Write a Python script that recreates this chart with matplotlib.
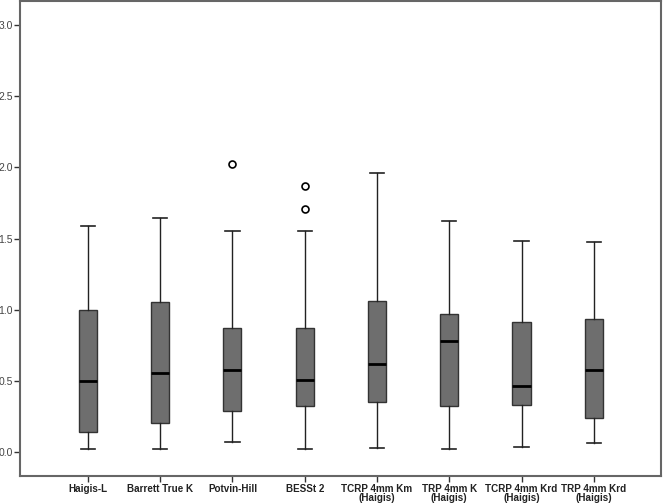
import matplotlib
matplotlib.use("Agg")
import matplotlib.pyplot as plt

plt.rcParams['font.family'] = ['Liberation Sans', 'DejaVu Sans']

labels = ["Haigis-L", "Barrett True K", "Potvin-Hill", "BESSt 2",
          "TCRP 4mm Km\n(Haigis)", "TRP 4mm K\n(Haigis)",
          "TCRP 4mm Krd\n(Haigis)", "TRP 4mm Krd\n(Haigis)"]
whislo = [0.02, 0.02, 0.072, 0.02, 0.03, 0.02, 0.037, 0.061]
q1 = [0.14, 0.205, 0.285, 0.322, 0.353, 0.325, 0.33, 0.236]
med = [0.50, 0.556, 0.575, 0.507, 0.622, 0.783, 0.465, 0.573]
q3 = [1.00, 1.055, 0.871, 0.871, 1.058, 0.967, 0.911, 0.937]
whishi = [1.59, 1.645, 1.554, 1.554, 1.96, 1.62, 1.481, 1.472]
fliers = [[], [], [2.026], [1.871, 1.71], [], [], [], []]

stats = []
for i in range(len(labels)):
    stats.append(dict(label=labels[i], whislo=whislo[i], q1=q1[i], med=med[i],
                      q3=q3[i], whishi=whishi[i], fliers=fliers[i]))

fig = plt.figure(figsize=(6.64, 5.04), dpi=100)
ax = fig.add_axes([20/664, 28/504, 641/664, 475/504])

ax.bxp(stats, positions=range(1, 9), widths=0.25, patch_artist=True,
       boxprops=dict(facecolor='#6e6e6e', edgecolor='#333333', linewidth=1.0),
       medianprops=dict(color='black', linewidth=2.0),
       whiskerprops=dict(color='#222222', linewidth=1.0),
       capprops=dict(color='#222222', linewidth=1.2),
       capwidths=0.2,
       flierprops=dict(marker='o', markerfacecolor='white', markeredgecolor='black',
                       markersize=5, markeredgewidth=1.2))

ax.set_xlim(0.06, 8.93)
ax.set_ylim(-0.168, 3.168)
ax.set_yticks([0.0, 0.5, 1.0, 1.5, 2.0, 2.5, 3.0])
ax.set_yticklabels(["0.0", "0.5", "1.0", "1.5", "2.0", "2.5", "3.0"])
ax.set_xticks(range(1, 9))
ax.set_xticklabels(labels, fontweight='bold', fontsize=7.1, linespacing=0.95, color='#222222')
ax.tick_params(axis='y', labelsize=7.5, length=4, width=1, color='#333333', pad=1, labelcolor='#444444')
ax.tick_params(axis='x', length=4, width=1, color='#333333', pad=1.5)
for s in ax.spines.values():
    s.set_color('#666666')
    s.set_linewidth(1.5)

fig.savefig("out.png", dpi=100)
